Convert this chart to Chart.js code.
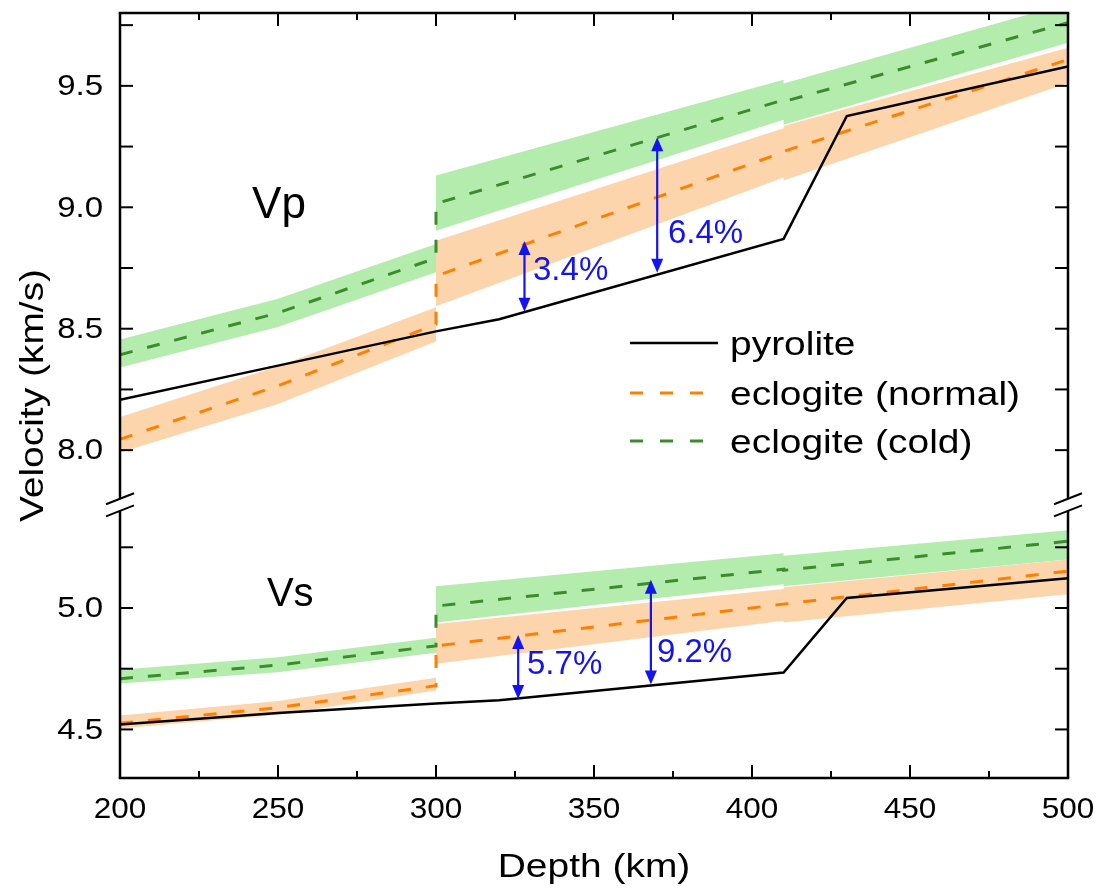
<!DOCTYPE html>
<html>
<head>
<meta charset="utf-8">
<title>Velocity vs Depth</title>
<script src="https://cdn.jsdelivr.net/npm/chart.js@4.4.1/dist/chart.umd.min.js"></script>
<style>
  body { margin: 0; background: #ffffff; }
  #wrap { width: 1099px; height: 889px; position: relative; }
</style>
</head>
<body>
<div id="wrap"><canvas id="velChart"></canvas></div>
<script>
// depth nodes (km); 300 and 410 are doubled where the eclogite curves jump
const depthEclogite = [200, 250, 300, 300, 410, 410, 500];
const depthPyrolite = [200, 250, 300, 320, 410, 430, 500];

// P-wave velocity (km/s)
const vpPyrolite = [8.207, 8.348, 8.489, 8.539, 8.870, 9.376, 9.580];
const vpNormal   = [8.045, 8.265, 8.518, 8.717, 9.227, 9.230, 9.608];
const vpNormalHi = [8.136, 8.345, 8.588, 8.862, 9.325, 9.335, 9.657];
const vpNormalLo = [7.990, 8.190, 8.447, 8.592, 9.123, 9.110, 9.512];
const vpCold     = [8.393, 8.565, 8.791, 9.015, 9.442, 9.435, 9.760];
const vpColdHi   = [8.456, 8.623, 8.849, 9.131, 9.525, 9.510, 9.840];
const vpColdLo   = [8.340, 8.507, 8.733, 8.903, 9.360, 9.340, 9.678];

// S-wave velocity (km/s)
const vsPyrolite = [4.520, 4.568, 4.607, 4.620, 4.734, 5.041, 5.123];
const vsNormal   = [4.525, 4.590, 4.680, 4.844, 5.016, 5.016, 5.152];
const vsNormalHi = [4.557, 4.617, 4.713, 4.934, 5.078, 5.085, 5.200];
const vsNormalLo = [4.504, 4.560, 4.660, 4.770, 4.947, 4.940, 5.057];
const vsCold     = [4.709, 4.765, 4.844, 5.008, 5.160, 5.155, 5.275];
const vsColdHi   = [4.746, 4.797, 4.877, 5.090, 5.225, 5.215, 5.320];
const vsColdLo   = [4.689, 4.735, 4.816, 4.940, 5.098, 5.090, 5.200];

// contrast arrows: depth, pyrolite value at the foot, percent contrast
const arrowDepth = [328, 370, 326, 368];
const arrowBase  = [8.570, 8.730, 4.625, 4.685];
const arrowPct   = [3.4, 6.4, 5.7, 9.2];
const arrowAxis  = ['yP', 'yP', 'yS', 'yS'];
// where each percent label sits (depth, velocity at text middle)
const arrowLabelAt = [[330.7, 8.738], [373.4, 8.891], [328.8, 4.766], [369.9, 4.816]];

// axis ranges, ticks and labels
const vpRange = [7.8, 9.8];
const vsRange = [4.3, 5.4];
const breakGap = 0.05;
const xTicks = [200, 250, 300, 350, 400, 450, 500];
const vpTickLabels = [8.0, 8.5, 9.0, 9.5];
const vsTickLabels = [4.5, 5.0];

const legendNames = ['pyrolite', 'eclogite (normal)', 'eclogite (cold)'];

const BLACK = '#000000';
const ORANGE = '#ff8000';
const GREEN = '#3c8c2c';
const ORANGE_FILL = '#fdd5ad';
const GREEN_FILL = '#b4ecae';
const BLUE = '#1414f0';

function pts(xs, ys) {
    return xs.map((x, i) => ({ x: x, y: ys[i] }));
}

function lineSet(label, data, axis, color, dashed) {
    return {
        label: label,
        data: data,
        yAxisID: axis,
        borderColor: color,
        borderWidth: dashed ? 3 : 2.5,
        borderDash: dashed ? [13, 15] : [],
        pointRadius: 0,
        fill: false,
        tension: 0
    };
}

function bandEdge(data, axis, color, fillPrev) {
    return {
        label: '',
        data: data,
        yAxisID: axis,
        borderWidth: 0,
        borderColor: 'rgba(0,0,0,0)',
        backgroundColor: color,
        pointRadius: 0,
        fill: fillPrev ? '-1' : false,
        tension: 0
    };
}

function drawText(ctx, str, x, y, opts) {
    ctx.save();
    ctx.translate(x, y);
    if (opts.rotate) ctx.rotate(opts.rotate);
    ctx.scale(opts.sx || 1, 1);
    ctx.font = opts.font;
    ctx.fillStyle = opts.color || BLACK;
    ctx.textAlign = opts.align || 'left';
    ctx.textBaseline = opts.baseline || 'alphabetic';
    ctx.fillText(str, 0, 0);
    ctx.restore();
}

function seg(ctx, x1, y1, x2, y2) {
    ctx.beginPath();
    ctx.moveTo(x1, y1);
    ctx.lineTo(x2, y2);
    ctx.stroke();
}

// frame with inward ticks, broken y axis, tick labels and titles
const framePlugin = {
    id: 'frame',
    afterDraw(chart) {
        const { ctx, chartArea: a, scales } = chart;
        const sx = scales.x, yP = scales.yP, yS = scales.yS;
        const gapTop = yP.getPixelForValue(vpRange[0]);
        const gapBot = yS.getPixelForValue(vsRange[1]);
        const font = '"Liberation Sans", Arial, sans-serif';

        ctx.save();
        ctx.strokeStyle = BLACK;
        ctx.lineWidth = 2.5;
        ctx.lineCap = 'butt';

        seg(ctx, a.left - 1.25, a.top, a.right + 1.25, a.top);
        seg(ctx, a.left - 1.25, a.bottom, a.right + 1.25, a.bottom);
        [a.left, a.right].forEach(xx => {
            seg(ctx, xx, a.top, xx, gapTop);
            seg(ctx, xx, gapBot, xx, a.bottom);
        });

        // x ticks every 25 km, long ones every 50
        ctx.lineWidth = 2;
        for (let d = 200; d <= 500; d += 25) {
            const px = sx.getPixelForValue(d);
            const len = d % 50 === 0 ? 13 : 7;
            seg(ctx, px, a.bottom, px, a.bottom - len);
            seg(ctx, px, a.top, px, a.top + len);
        }

        // y ticks every 0.25 on both halves
        const yTick = (scale, v) => {
            const py = scale.getPixelForValue(v);
            seg(ctx, a.left, py, a.left + 13, py);
            seg(ctx, a.right, py, a.right - 13, py);
        };
        for (let v = 8.0; v <= vpRange[1] + 1e-6; v += 0.25) yTick(yP, v);
        for (let v = 4.5; v <= vsRange[1] + 1e-6; v += 0.25) yTick(yS, v);

        // break marks
        ctx.lineWidth = 2;
        [a.left, a.right].forEach(xx => {
            [gapTop, gapBot].forEach(yy => {
                seg(ctx, xx - 14, yy + 5.5, xx + 14, yy - 5.5);
            });
        });
        ctx.restore();

        // tick labels
        const tickFont = '30px ' + font;
        xTicks.forEach(d => {
            drawText(ctx, String(d), sx.getPixelForValue(d), 818,
                { font: tickFont, align: 'center', sx: 1.05 });
        });
        vpTickLabels.forEach(v => {
            drawText(ctx, v.toFixed(1), 103, yP.getPixelForValue(v) + 1,
                { font: tickFont, align: 'right', baseline: 'middle', sx: 1.1 });
        });
        vsTickLabels.forEach(v => {
            drawText(ctx, v.toFixed(1), 103, yS.getPixelForValue(v) + 1,
                { font: tickFont, align: 'right', baseline: 'middle', sx: 1.1 });
        });

        // axis titles
        drawText(ctx, 'Depth (km)', (a.left + a.right) / 2, 877,
            { font: '33px ' + font, align: 'center', sx: 1.18 });
        drawText(ctx, 'Velocity (km/s)', 34, (a.top + a.bottom) / 2,
            { font: '33px ' + font, align: 'center', baseline: 'middle', sx: 1.18, rotate: -Math.PI / 2 });
    }
};

// panel names, contrast arrows and the legend
const notesPlugin = {
    id: 'notes',
    afterDatasetsDraw(chart) {
        const { ctx, scales } = chart;
        const sx = scales.x;
        const font = '"Liberation Sans", Arial, sans-serif';

        drawText(ctx, 'Vp', sx.getPixelForValue(241.8), scales.yP.getPixelForValue(8.957),
            { font: '44px ' + font });
        drawText(ctx, 'Vs', sx.getPixelForValue(246.5), scales.yS.getPixelForValue(5.008),
            { font: '40px ' + font });

        ctx.save();
        ctx.strokeStyle = BLUE;
        ctx.fillStyle = BLUE;
        ctx.lineWidth = 2.2;
        arrowDepth.forEach((d, i) => {
            const ys = scales[arrowAxis[i]];
            const px = sx.getPixelForValue(d);
            const yFoot = ys.getPixelForValue(arrowBase[i]);
            const yTip = ys.getPixelForValue(arrowBase[i] * (1 + arrowPct[i] / 100));
            const head = 14, half = 6;
            seg(ctx, px, yTip + head - 1, px, yFoot - head + 1);
            ctx.beginPath();
            ctx.moveTo(px, yTip);
            ctx.lineTo(px - half, yTip + head);
            ctx.lineTo(px + half, yTip + head);
            ctx.closePath();
            ctx.fill();
            ctx.beginPath();
            ctx.moveTo(px, yFoot);
            ctx.lineTo(px - half, yFoot - head);
            ctx.lineTo(px + half, yFoot - head);
            ctx.closePath();
            ctx.fill();

            const at = arrowLabelAt[i];
            drawText(ctx, arrowPct[i].toFixed(1) + '%', sx.getPixelForValue(at[0]), ys.getPixelForValue(at[1]),
                { font: '33px ' + font, baseline: 'middle', color: BLUE });
        });
        ctx.restore();

        // legend
        const rows = [343, 393, 441];
        const colors = [BLACK, ORANGE, GREEN];
        ctx.save();
        rows.forEach((ry, i) => {
            ctx.strokeStyle = colors[i];
            if (i === 0) {
                ctx.lineWidth = 2.5;
                seg(ctx, 630, ry, 718, ry);
            } else {
                ctx.lineWidth = 3;
                for (let k = 0; k < 3; k++) seg(ctx, 630 + k * 30, ry, 643 + k * 30, ry);
            }
            drawText(ctx, legendNames[i], 730, ry + 3,
                { font: '33px ' + font, baseline: 'middle', sx: 1.18 });
        });
        ctx.restore();
    }
};

document.addEventListener('DOMContentLoaded', () => {
    const ctx = document.getElementById('velChart').getContext('2d');

    const datasets = [
        lineSet('pyrolite', pts(depthPyrolite, vpPyrolite), 'yP', BLACK, false),
        lineSet('pyrolite', pts(depthPyrolite, vsPyrolite), 'yS', BLACK, false),
        lineSet('eclogite (normal)', pts(depthEclogite, vpNormal), 'yP', ORANGE, true),
        lineSet('eclogite (cold)', pts(depthEclogite, vpCold), 'yP', GREEN, true),
        lineSet('eclogite (normal)', pts(depthEclogite, vsNormal), 'yS', ORANGE, true),
        lineSet('eclogite (cold)', pts(depthEclogite, vsCold), 'yS', GREEN, true),
        bandEdge(pts(depthEclogite, vpNormalHi), 'yP', ORANGE_FILL, false),
        bandEdge(pts(depthEclogite, vpNormalLo), 'yP', ORANGE_FILL, true),
        bandEdge(pts(depthEclogite, vpColdHi), 'yP', GREEN_FILL, false),
        bandEdge(pts(depthEclogite, vpColdLo), 'yP', GREEN_FILL, true),
        bandEdge(pts(depthEclogite, vsNormalHi), 'yS', ORANGE_FILL, false),
        bandEdge(pts(depthEclogite, vsNormalLo), 'yS', ORANGE_FILL, true),
        bandEdge(pts(depthEclogite, vsColdHi), 'yS', GREEN_FILL, false),
        bandEdge(pts(depthEclogite, vsColdLo), 'yS', GREEN_FILL, true)
    ];

    // both y scales span the whole plot height; each half shows only its own range
    const span = (vpRange[1] - vpRange[0]) + (vsRange[1] - vsRange[0]) + breakGap;

    new Chart(ctx, {
        type: 'line',
        data: { datasets: datasets },
        options: {
            responsive: true,
            maintainAspectRatio: false,
            animation: false,
            layout: { padding: { left: 120, right: 31, top: 13, bottom: 111 } },
            plugins: {
                legend: { display: false },
                tooltip: { enabled: false }
            },
            scales: {
                x: { type: 'linear', min: 200, max: 500, display: false },
                yP: { type: 'linear', min: vpRange[1] - span, max: vpRange[1], display: false },
                yS: { type: 'linear', min: vsRange[0], max: vsRange[0] + span, display: false }
            }
        },
        plugins: [framePlugin, notesPlugin]
    });
});
</script>
</body>
</html>
